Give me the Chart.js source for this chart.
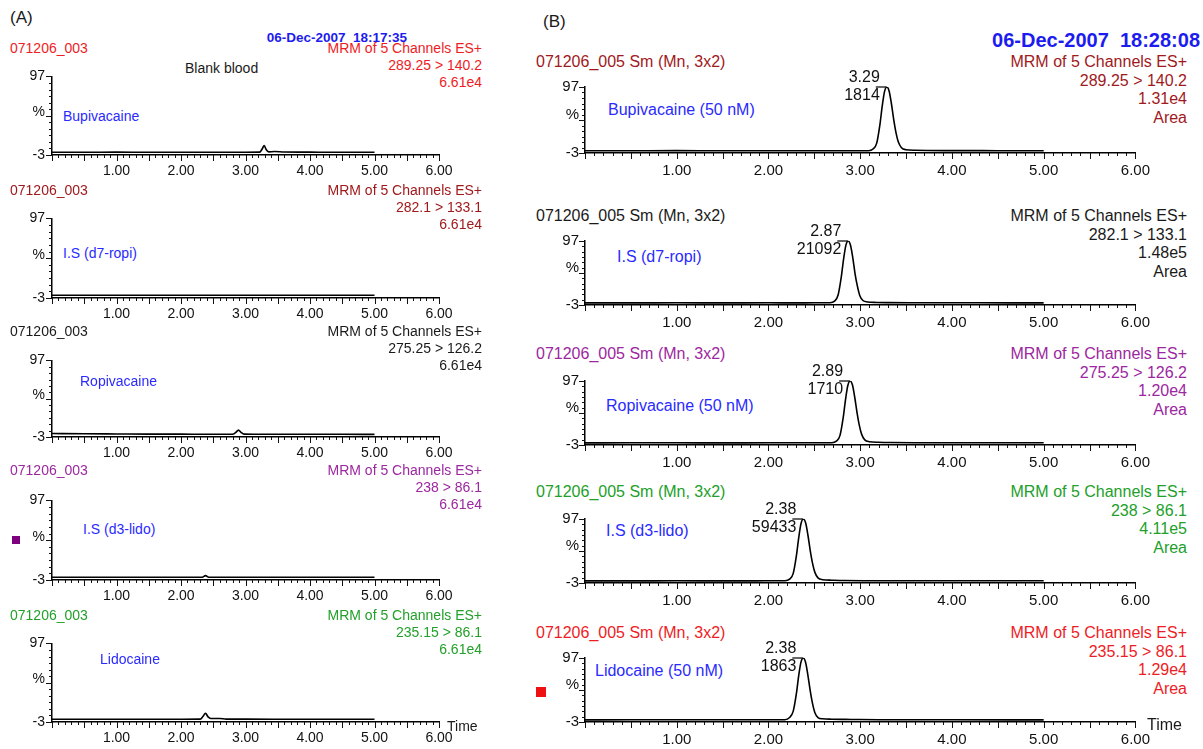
<!DOCTYPE html>
<html>
<head>
<meta charset="utf-8">
<script src="https://cdn.jsdelivr.net/npm/chart.js@4.4.1/dist/chart.umd.min.js"></script>
<style>
  body { margin: 0; background: #fff; }
  #wrap { position: relative; width: 1203px; height: 749px; overflow: hidden; font-family: "Liberation Sans", Arial, sans-serif; }
  #wrap canvas { position: absolute; }
  .txt { position: absolute; white-space: pre; line-height: 1.15; transform: translateY(-50%); }
</style>
</head>
<body>
<div id="wrap"></div>
<script>
// ---- data ----
const compoundsA = ['Bupivacaine', 'I.S (d7-ropi)', 'Ropivacaine', 'I.S (d3-lido)', 'Lidocaine'];
const compoundsB = ['Bupivacaine (50 nM)', 'I.S (d7-ropi)', 'Ropivacaine (50 nM)', 'I.S (d3-lido)', 'Lidocaine (50 nM)'];
const transitions = ['289.25 > 140.2', '282.1 > 133.1', '275.25 > 126.2', '238 > 86.1', '235.15 > 86.1'];
const intensityA = ['6.61e4', '6.61e4', '6.61e4', '6.61e4', '6.61e4'];
const intensityB = ['1.31e4', '1.48e5', '1.20e4', '4.11e5', '1.29e4'];
const peakTimesB = [3.29, 2.87, 2.89, 2.38, 2.38];
const peakAreasB = ['1814', '21092', '1710', '59433', '1863'];
const xTickLabels = [1, 2, 3, 4, 5, 6];

// blank blood traces (panel A)
const timeA1 = [0, 0.5, 1.0, 1.5, 2.0, 2.5, 3.0, 3.22, 3.26, 3.29, 3.32, 3.36, 3.45, 3.6, 4.0, 4.5, 5.0];
const intA1  = [0.5, 0.5, 0.6, 0.5, 0.5, 0.5, 0.5, 0.6, 5, 9, 4, 1, 1.4, 0.8, 0.6, 0.5, 0.5];
const timeA2 = [0, 1.0, 2.0, 3.0, 4.0, 5.0];
const intA2  = [0.4, 0.4, 0.4, 0.4, 0.4, 0.4];
const timeA3 = [0, 0.5, 1.0, 1.5, 2.0, 2.5, 2.8, 2.85, 2.89, 2.93, 2.98, 3.2, 3.6, 4.0, 4.5, 5.0];
const intA3  = [1.5, 1.2, 1.0, 0.8, 0.7, 0.6, 0.6, 3, 6, 3, 0.8, 0.6, 0.5, 0.5, 0.5, 0.4];
const timeA4 = [0, 1.0, 2.0, 2.33, 2.38, 2.43, 3.0, 4.0, 5.0];
const intA4  = [0.4, 0.4, 0.4, 0.5, 2.5, 0.5, 0.4, 0.4, 0.4];
const timeA5 = [0, 0.5, 1.0, 1.5, 2.0, 2.3, 2.34, 2.38, 2.42, 2.46, 2.6, 2.7, 3.0, 4.0, 5.0];
const intA5  = [0.5, 0.5, 0.5, 0.5, 0.5, 0.6, 4, 8, 3.5, 1.5, 1.5, 0.7, 0.6, 0.5, 0.5];

// spiked traces (panel B)
const timeB1 = [0, 0.5, 1.0, 1.5, 2.0, 2.5, 2.9, 3.09, 3.14, 3.18, 3.215, 3.24, 3.265, 3.29, 3.315, 3.34, 3.365, 3.39, 3.415, 3.45, 3.50, 3.60, 3.73, 4.0, 4.5, 5.0];
const intB1  = [0.3, 0.4, 0.6, 0.4, 0.5, 0.4, 0.4, 0.4, 3, 12, 40, 68, 90, 97, 91, 72, 48, 28, 14, 5, 2, 1.2, 0.8, 0.6, 0.5, 0.4];
const timeB2 = [0, 0.5, 1.0, 1.5, 2.0, 2.3, 2.5, 2.67, 2.72, 2.76, 2.795, 2.82, 2.845, 2.87, 2.895, 2.92, 2.945, 2.97, 2.995, 3.03, 3.08, 3.18, 3.31, 3.6, 4.3, 5.0];
const intB2  = [0.3, 0.3, 0.4, 0.3, 0.4, 0.3, 0.4, 0.5, 3, 13, 42, 70, 91, 97, 90, 70, 45, 26, 12, 4, 1.8, 1, 0.7, 0.5, 0.4, 0.3];
const timeB3 = [0, 0.5, 1.0, 1.5, 2.0, 2.3, 2.5, 2.69, 2.74, 2.78, 2.815, 2.84, 2.865, 2.89, 2.915, 2.94, 2.965, 2.99, 3.015, 3.05, 3.10, 3.20, 3.33, 3.6, 4.3, 5.0];
const intB3  = [0.3, 0.4, 0.4, 0.3, 0.4, 0.4, 0.4, 0.5, 3, 12, 40, 68, 90, 97, 91, 72, 48, 28, 14, 5, 2.2, 1.3, 0.9, 0.6, 0.5, 0.4];
const timeB4 = [0, 0.5, 1.0, 1.5, 1.8, 1.95, 2.05, 2.18, 2.23, 2.27, 2.305, 2.33, 2.355, 2.38, 2.405, 2.43, 2.455, 2.48, 2.505, 2.54, 2.59, 2.69, 2.82, 3.2, 4.0, 5.0];
const intB4  = [0.3, 0.3, 0.4, 0.3, 0.3, 0.4, 0.4, 0.5, 3, 12, 40, 68, 90, 97, 91, 72, 48, 28, 14, 5, 2.2, 1.4, 0.9, 0.6, 0.5, 0.4];
const timeB5 = [0, 0.5, 1.0, 1.2, 1.5, 1.9, 2.05, 2.18, 2.23, 2.27, 2.305, 2.33, 2.355, 2.38, 2.405, 2.43, 2.455, 2.48, 2.505, 2.54, 2.59, 2.69, 2.9, 3.2, 4.0, 5.0];
const intB5  = [0.3, 0.4, 0.6, 0.4, 0.4, 0.4, 0.4, 0.5, 4, 14, 42, 70, 91, 97, 90, 70, 46, 26, 12, 4, 2, 1.4, 1, 0.5, 0.4, 0.3];

const tracesA = [[timeA1, intA1], [timeA2, intA2], [timeA3, intA3], [timeA4, intA4], [timeA5, intA5]];
const tracesB = [[timeB1, intB1], [timeB2, intB2], [timeB3, intB3], [timeB4, intB4], [timeB5, intB5]];

// ---- layout / style ----
const FONT = '"Liberation Sans", Arial, sans-serif';
const RED = '#ee1c25', DARKRED = '#a0191c', BLACK = '#1a1a1a', PURPLE = '#9c27a0', GREEN = '#22a02a', BLUE = '#2a2aff';
const colorsA = [RED, DARKRED, BLACK, PURPLE, GREEN];
const colorsB = [DARKRED, BLACK, PURPLE, GREEN, RED];

const panelA = {
  axisX: 52, right: 439, font: 14, tickFont: 14, xPad: 8, yPad: 7, pctAt: 51, padTop: 12,
  tops: [73, 215, 357, 497, 640], bottoms: [155, 298, 437, 580, 722],
  headY: [48, 190, 331, 470, 615], headX: 10, mrmRight: 482, lineStep: 17,
  nameXY: [[63, 116], [63, 253], [80, 381], [83, 529], [100, 659]]
};
const panelB = {
  axisX: 585, right: 1137, font: 16, tickFont: 15, xPad: 9, yPad: 6, pctAt: 55, padTop: 26,
  tops: [87, 241, 381, 519, 658], bottoms: [153, 305, 445, 583, 722],
  headY: [62, 216, 354, 492, 633], headX: 536, mrmRight: 1187, lineStep: 18.5,
  nameXY: [[608, 110], [617, 257], [606, 406], [606, 531], [595, 671]]
};

const wrap = document.getElementById('wrap');

function addText(str, x, y, opt) {
  const d = document.createElement('div');
  d.className = 'txt';
  d.textContent = str;
  d.style.top = y + 'px';
  if (opt.align === 'right') d.style.right = (1203 - x) + 'px';
  else d.style.left = x + 'px';
  d.style.color = opt.color || BLACK;
  d.style.fontSize = (opt.size || 14) + 'px';
  if (opt.bold) d.style.fontWeight = 'bold';
  wrap.appendChild(d);
}

function addBox(x, y, s, color) {
  const d = document.createElement('div');
  d.style.cssText = 'position:absolute;left:' + x + 'px;top:' + y + 'px;width:' + s + 'px;height:' + s + 'px;background:' + color;
  wrap.appendChild(d);
}

// MassLynx style tick marks: 0.1 min minor, 0.5 min major; y in 12 steps
const msTicks = {
  id: 'msTicks',
  afterDraw(chart) {
    const ctx = chart.ctx, xs = chart.scales.x, ys = chart.scales.y, a = chart.chartArea;
    ctx.save();
    ctx.strokeStyle = '#111';
    ctx.lineWidth = 1;
    ctx.beginPath();
    for (let i = 0; i <= 60; i++) {
      const px = Math.round(xs.getPixelForValue(i / 10)) + 0.5;
      const len = i % 5 === 0 ? 6 : 3;
      ctx.moveTo(px, a.bottom);
      ctx.lineTo(px, a.bottom + len);
    }
    for (let i = 0; i <= 12; i++) {
      const py = Math.round(ys.getPixelForValue(-3 + i * 100 / 12)) + 0.5;
      const len = i % 6 === 0 ? 6 : 3;
      ctx.moveTo(a.left - len, py);
      ctx.lineTo(a.left, py);
    }
    ctx.stroke();
    ctx.restore();
  }
};

// retention time / area label at the apex
const peakLabel = {
  id: 'peakLabel',
  afterDatasetsDraw(chart, args, opts) {
    if (!opts || opts.time == null) return;
    const ctx = chart.ctx;
    const px = chart.scales.x.getPixelForValue(opts.time);
    const py = chart.scales.y.getPixelForValue(97);
    ctx.save();
    ctx.strokeStyle = '#000';
    ctx.lineWidth = 1.2;
    ctx.beginPath();
    ctx.moveTo(px - 11, py);
    ctx.lineTo(px, py);
    ctx.stroke();
    ctx.fillStyle = '#111';
    ctx.font = opts.size + 'px ' + FONT;
    ctx.textAlign = 'right';
    ctx.textBaseline = 'middle';
    ctx.fillText(opts.time.toFixed(2), px - 7, py - 9);
    ctx.fillText(opts.area, px - 7, py + 9);
    ctx.restore();
  }
};

function makePlot(p, i, trace, peak) {
  const padTop = p.padTop, padRight = 22, xH = p.tickFont + p.xPad + 6;
  const left = p.axisX - 40;
  const top = p.tops[i] - padTop;
  const cv = document.createElement('canvas');
  cv.width = p.right + padRight - left;
  cv.height = p.bottoms[i] - p.tops[i] + padTop + xH;
  cv.style.left = left + 'px';
  cv.style.top = top + 'px';
  wrap.appendChild(cv);

  const [time, vals] = trace;
  new Chart(cv, {
    type: 'line',
    data: {
      datasets: [{
        data: time.map((t, k) => ({ x: t, y: vals[k] })),
        borderColor: '#000',
        borderWidth: 1.6,
        pointRadius: 0,
        cubicInterpolationMode: 'monotone',
        fill: false
      }]
    },
    options: {
      responsive: false,
      animation: false,
      devicePixelRatio: 1,
      layout: { padding: { top: padTop, right: padRight, left: 0, bottom: 0 } },
      plugins: {
        legend: { display: false },
        tooltip: { enabled: false },
        peakLabel: peak ? { time: peak.time, area: peak.area, size: p.font } : {}
      },
      scales: {
        x: {
          type: 'linear', min: 0, max: 6,
          afterBuildTicks: s => { s.ticks = xTickLabels.map(v => ({ value: v })); },
          afterFit: s => { s.height = xH; },
          ticks: { callback: v => v.toFixed(2), autoSkip: false, maxRotation: 0, padding: p.xPad, color: '#111', font: { size: p.tickFont, family: FONT } },
          grid: { drawOnChartArea: false, drawTicks: false },
          border: { color: '#000', width: 1.5 }
        },
        y: {
          type: 'linear', min: -3, max: 97,
          afterBuildTicks: s => { s.ticks = [{ value: -3 }, { value: p.pctAt }, { value: 97 }]; },
          afterFit: s => { s.width = 40; },
          ticks: { callback: v => v === p.pctAt ? '%' : String(v), autoSkip: false, padding: p.yPad, color: '#111', font: { size: p.tickFont, family: FONT } },
          grid: { drawOnChartArea: false, drawTicks: false },
          border: { color: '#000', width: 1.5 }
        }
      }
    },
    plugins: [msTicks, peakLabel]
  });
}

// ---- panel A: blank blood ----
addText('(A)', 10, 18, { size: 17 });
addText('06-Dec-2007  18:17:35', 407, 38, { align: 'right', size: 13.5, bold: true, color: '#1c1cf0' });
addText('Blank blood', 185, 68, { size: 14 });
for (let i = 0; i < 5; i++) {
  const c = colorsA[i], p = panelA;
  addText('071206_003', p.headX, p.headY[i], { size: p.font, color: c });
  addText('MRM of 5 Channels ES+', p.mrmRight, p.headY[i], { align: 'right', size: p.font, color: c });
  addText(transitions[i], p.mrmRight, p.headY[i] + p.lineStep, { align: 'right', size: p.font, color: c });
  addText(intensityA[i], p.mrmRight, p.headY[i] + 2 * p.lineStep, { align: 'right', size: p.font, color: c });
  addText(compoundsA[i], p.nameXY[i][0], p.nameXY[i][1], { size: p.font, color: BLUE });
  makePlot(p, i, tracesA[i], null);
}
addText('Time', 447, 726, { size: 14 });
addBox(12, 536, 8, '#7f007f');

// ---- panel B: spiked blood 50 nM ----
addText('(B)', 543, 22, { size: 17 });
addText('06-Dec-2007  18:28:08', 1200, 40, { align: 'right', size: 20, bold: true, color: '#1c1cf0' });
for (let i = 0; i < 5; i++) {
  const c = colorsB[i], p = panelB;
  addText('071206_005 Sm (Mn, 3x2)', p.headX, p.headY[i], { size: p.font, color: c });
  addText('MRM of 5 Channels ES+', p.mrmRight, p.headY[i], { align: 'right', size: p.font, color: c });
  addText(transitions[i], p.mrmRight, p.headY[i] + p.lineStep, { align: 'right', size: p.font, color: c });
  addText(intensityB[i], p.mrmRight, p.headY[i] + 2 * p.lineStep, { align: 'right', size: p.font, color: c });
  addText('Area', p.mrmRight, p.headY[i] + 3 * p.lineStep, { align: 'right', size: p.font, color: c });
  addText(compoundsB[i], p.nameXY[i][0], p.nameXY[i][1], { size: p.font, color: BLUE });
  makePlot(p, i, tracesB[i], { time: peakTimesB[i], area: peakAreasB[i] });
}
addText('Time', 1147, 725, { size: 16 });
addBox(536, 687, 10, '#ee1111');
</script>
</body>
</html>
